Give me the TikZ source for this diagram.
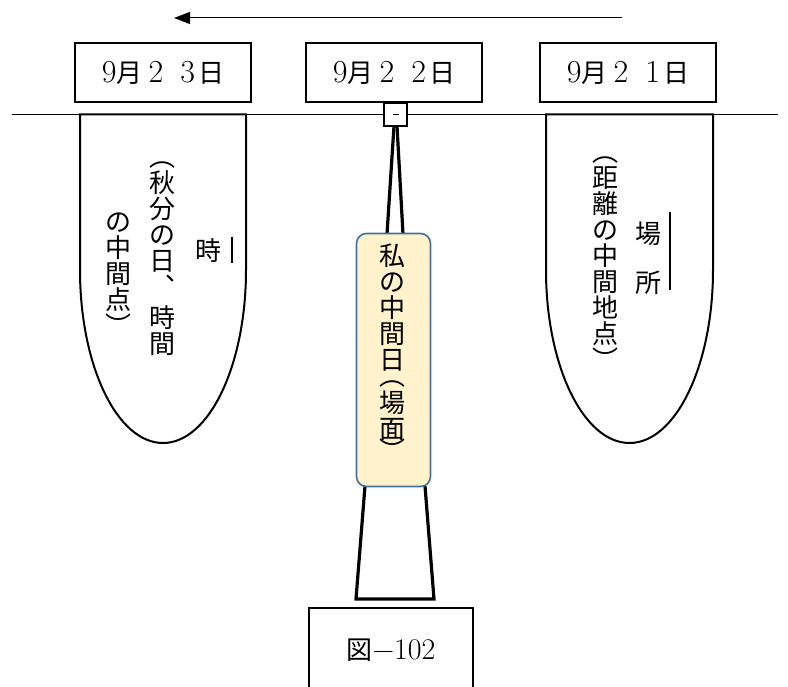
\documentclass[tikz,border=0pt]{standalone}
\usepackage{fontspec}
\newfontfamily\cjk{Noto Sans CJK JP}
\usetikzlibrary{arrows.meta}
\definecolor{yfill}{HTML}{FFF2CC}
\definecolor{yedge}{HTML}{41719C}
\newcommand\mydate[1]{9\hspace{0pt}{\cjk\fontsize{26}{26}\selectfont 月}\hspace{6pt}2\hspace{17pt}#1\hspace{3pt}{\cjk\fontsize{26}{26}\selectfont 日}}
\newcommand\myfirst{\rule{0pt}{22.9pt}}
\begin{document}
\begin{tikzpicture}[x=1pt,y=-1pt,
  thinline/.style={line width=1pt},
  datebox/.style={draw, line width=1.2pt, minimum width=176pt, minimum height=59pt, inner sep=0pt, font=\fontsize{32}{32}\selectfont},
  ushape/.style={draw, line width=2pt, fill=white},
  post/.style={line width=3.2pt, line join=miter},
  vcol/.style={align=center, inner sep=0pt, anchor=north, font=\cjk\fontsize{26}{26}\selectfont},
  side/.style={line width=1.6pt},
]
\useasboundingbox (0,0) rectangle (788,687);
% top arrow
\coordinate (arrS) at (622,18);
\coordinate (arrE) at (174,18);
\draw[thinline,-{Triangle[length=16pt,width=12pt]}] (arrS) -- (arrE);
% date boxes
\node[datebox] (d23) at (163,72.5) {\mydate{3}};
\node[datebox] (d22) at (394,72.5) {\mydate{2}};
\node[datebox] (d21) at (628,72.5) {\mydate{1}};
% horizontal line
\coordinate (hl) at (12,114.5);
\coordinate (hr) at (778,114.5);
\draw[thinline] (hl) -- (hr);
% U shapes
\draw[ushape] (80,114.5) -- (80,270) arc[x radius=83pt, y radius=173pt, start angle=180, end angle=360] -- (246,114.5) -- cycle;
\draw[ushape] (546,114.5) -- (546,270) arc[x radius=83.5pt, y radius=173pt, start angle=180, end angle=360] -- (713,114.5) -- cycle;
% center post
\coordinate (pa) at (394,126);
\coordinate (pb) at (397,126);
\coordinate (pc) at (387,234);
\coordinate (pd) at (403,234);
\draw[post] (pa) -- (pc);
\draw[post] (pb) -- (pd);
\coordinate (ta) at (365,486);
\coordinate (tb) at (356,599);
\coordinate (tc) at (434,599);
\coordinate (td) at (425,486);
\draw[post] (ta) -- (tb) -- (tc) -- (td);
% square
\node[draw, line width=2.2pt, fill=white, minimum size=23pt, inner sep=0pt] (sq) at (395.5,114.5) {};
\coordinate (sqa) at (393,114.5);
\coordinate (sqb) at (399,114.5);
\draw[thinline] (sqa) -- (sqb);
% yellow box
\node[draw=yedge, fill=yfill, line width=1.6pt, rounded corners=10pt, minimum width=74pt, minimum height=253pt, inner sep=0pt] (yb) at (393.5,360) {};
\node[vcol] (ytext) at (392,242) {\myfirst 私\\の\\中\\間\\日\\[-10pt]︵\\[1pt]場\\面\\[-4pt]︶};
% bottom box
\coordinate (ba) at (309,690);
\coordinate (bb) at (309,608);
\coordinate (bc) at (473,608);
\coordinate (bd) at (473,690);
\draw[line width=1.2pt] (ba) -- (bb) -- (bc) -- (bd);
\node[font=\fontsize{30}{30}\selectfont] (fig) at (391,650) {{\cjk\fontsize{26}{26}\selectfont 図}−102};
% left U text
\node[vcol] (l1) at (208,237) {\myfirst 時};
\node[vcol] (l2) at (162,143) {\myfirst ︵\\秋\\分\\の\\日\\︑\\[5pt]時\\間};
\node[vcol] (l3) at (118,208) {\myfirst の\\中\\間\\点\\︶};
\coordinate (s1a) at (232,237);
\coordinate (s1b) at (232,263);
\draw[side] (s1a) -- (s1b);
% right U text
\node[vcol] (r1) at (648,220) {\myfirst 場\\[23pt]所};
\node[vcol] (r2) at (605,138) {\myfirst ︵\\距\\離\\の\\中\\間\\地\\点\\︶};
\coordinate (s2a) at (670,212);
\coordinate (s2b) at (670,290);
\draw[side] (s2a) -- (s2b);
\end{tikzpicture}
\end{document}
